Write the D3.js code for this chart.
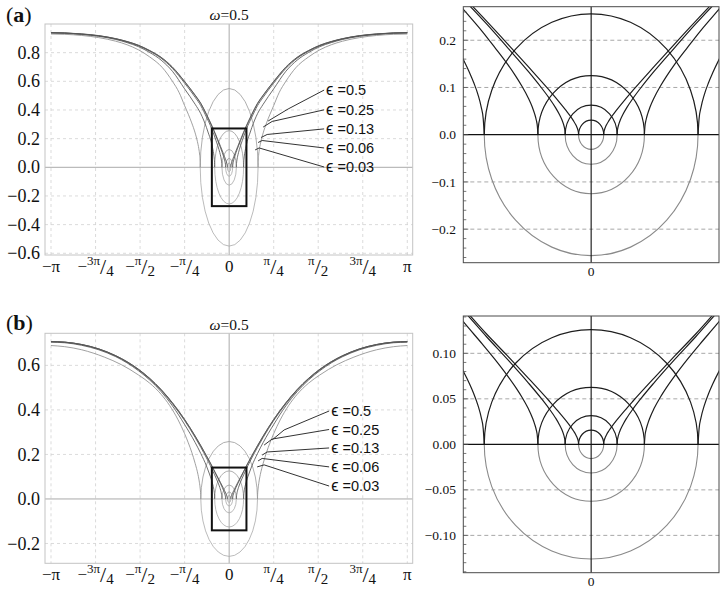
<!DOCTYPE html>
<html><head><meta charset="utf-8">
<script src="https://cdn.jsdelivr.net/npm/d3@7"></script>
<style>body{margin:0;background:#fff}svg{display:block}</style>
</head><body>
<svg id="c" width="727" height="593"></svg>
<script>
const PI = Math.PI;
// ---------- data ----------
const xTickValues = [-PI, -3*PI/4, -PI/2, -PI/4, 0, PI/4, PI/2, 3*PI/4, PI];
const xTickSign = ["−","−","−","−","","","","",""];
const xTickNum  = ["π","3π","π","π","0","π","π","3π","π"];
const xTickDen  = ["","4","2","4","","4","2","4",""];
const yTicksLeftA = [-0.6,-0.4,-0.2,0,0.2,0.4,0.6,0.8];
const yTicksLeftB = [-0.2,0,0.2,0.4,0.6];
const yTicksRightA = [-0.2,-0.1,0,0.1,0.2];
const yTicksRightB = [-0.10,-0.05,0,0.05,0.10];
const epsSymbol = "ϵ";
const epsValues = ["0.5","0.25","0.13","0.06","0.03"];
const titleText = "=0.5";

// circle / ellipse radii (x in k units, y in value units)
const circleRxA = [0.51, 0.255, 0.127, 0.062, 0.030];
const circleRyA = [0.55, 0.256, 0.125, 0.0625, 0.031];
const circleRxB = [0.50, 0.255, 0.127, 0.062, 0.030];
const circleRyB = [0.258, 0.126, 0.0625, 0.0315, 0.0157];

// branches, right half (k, value); left half is the mirror image
const branchA05 = [[0.51,0],[0.512,0.04],[0.52,0.085],[0.535,0.13],[0.56,0.18],[0.6,0.24],[0.66,0.31],[0.72,0.37],[0.785,0.43],[0.88,0.52],[1.0,0.60],[1.176,0.695],[1.4,0.77],[1.6,0.82],[1.8,0.855],[2.0,0.88],[2.3,0.905],[2.6,0.92],[2.9,0.928],[3.1416,0.93]];
const branchA25 = [[0.255,0],[0.2575,0.034],[0.262,0.0575],[0.27,0.085],[0.28,0.110],[0.29,0.131],[0.305,0.159],[0.33,0.198],[0.36,0.231],[0.4,0.278],[0.5,0.374],[0.6,0.44],[0.785,0.547],[1.0,0.67],[1.2,0.748],[1.4,0.801],[1.6,0.842],[1.8,0.870],[2.0,0.892],[2.3,0.914],[2.6,0.927],[2.9,0.935],[3.1416,0.937]];
const branchA13 = [[0.127,0],[0.1283,0.0174],[0.1308,0.0306],[0.135,0.0446],[0.14,0.0575],[0.15,0.0778],[0.165,0.1025],[0.18,0.124],[0.2,0.150],[0.23,0.185],[0.26,0.219],[0.3,0.2605],[0.33,0.291],[0.4,0.350],[0.5,0.430],[0.6,0.489],[0.785,0.587],[1.0,0.69],[1.2,0.761],[1.4,0.81],[1.6,0.848],[1.8,0.875],[2.0,0.896],[2.3,0.917],[2.6,0.929],[2.9,0.937],[3.1416,0.939]];
const branchA06 = [[0.062,0],[0.0626,0.0085],[0.0638,0.0149],[0.066,0.0224],[0.07,0.0321],[0.076,0.0434],[0.085,0.0574],[0.1,0.0773],[0.12,0.101],[0.15,0.134],[0.2,0.185],[0.25,0.235],[0.3,0.282],[0.35,0.324],[0.4,0.367],[0.5,0.444],[0.6,0.501],[0.785,0.597],[1.0,0.697],[1.2,0.766],[1.4,0.813],[1.6,0.851],[1.8,0.877],[2.0,0.897],[2.3,0.918],[2.6,0.930],[2.9,0.937],[3.1416,0.940]];
const branchA03 = [[0.030,0],[0.0303,0.0043],[0.0309,0.0074],[0.032,0.0111],[0.034,0.0159],[0.037,0.0215],[0.042,0.0292],[0.05,0.0397],[0.06,0.0515],[0.08,0.0734],[0.1,0.0942],[0.15,0.144],[0.2,0.193],[0.25,0.241],[0.3,0.2875],[0.35,0.330],[0.4,0.371],[0.5,0.447],[0.6,0.504],[0.785,0.599],[1.0,0.70],[1.2,0.768],[1.4,0.815],[1.6,0.852],[1.8,0.878],[2.0,0.898],[2.3,0.919],[2.6,0.931],[2.9,0.938],[3.1416,0.940]];

const branchB05 = [[0.5,0],[0.502,0.02],[0.51,0.045],[0.525,0.075],[0.55,0.11],[0.6,0.16],[0.66,0.21],[0.72,0.252],[0.785,0.293],[0.9,0.355],[1.05,0.42],[1.2,0.47],[1.4,0.52],[1.6,0.557],[1.9,0.603],[2.2,0.637],[2.6,0.670],[2.9,0.684],[3.1416,0.689]];
const branchB25 = [[0.255,0],[0.2575,0.0171],[0.262,0.029],[0.27,0.0428],[0.28,0.0556],[0.29,0.0663],[0.305,0.0802],[0.33,0.1001],[0.36,0.121],[0.4,0.148],[0.5,0.204],[0.6,0.2535],[0.785,0.334],[1.0,0.418],[1.2,0.482],[1.4,0.534],[1.6,0.576],[1.8,0.611],[2.0,0.639],[2.3,0.670],[2.6,0.690],[2.9,0.7015],[3.1416,0.704]];
const branchB13 = [[0.127,0],[0.1283,0.0088],[0.1308,0.0155],[0.135,0.0225],[0.14,0.029],[0.15,0.0393],[0.165,0.0518],[0.18,0.0626],[0.2,0.0756],[0.23,0.0936],[0.26,0.1104],[0.3,0.132],[0.33,0.149],[0.4,0.1843],[0.5,0.2317],[0.6,0.2762],[0.785,0.3517],[1.0,0.427],[1.2,0.488],[1.4,0.538],[1.6,0.580],[1.8,0.614],[2.0,0.642],[2.3,0.673],[2.6,0.693],[2.9,0.704],[3.1416,0.706]];
const branchB06 = [[0.062,0],[0.0626,0.0043],[0.0638,0.0075],[0.066,0.0113],[0.07,0.0162],[0.076,0.0219],[0.085,0.029],[0.1,0.039],[0.12,0.051],[0.15,0.0676],[0.2,0.0936],[0.25,0.1185],[0.3,0.1445],[0.35,0.1686],[0.4,0.1924],[0.5,0.2382],[0.6,0.2817],[0.785,0.3561],[1.0,0.431],[1.2,0.491],[1.4,0.541],[1.6,0.582],[1.8,0.616],[2.0,0.643],[2.3,0.674],[2.6,0.6935],[2.9,0.7043],[3.1416,0.707]];
const branchB03 = [[0.030,0],[0.0303,0.0021],[0.0309,0.0037],[0.032,0.0056],[0.034,0.008],[0.037,0.0109],[0.042,0.0147],[0.05,0.02],[0.06,0.026],[0.08,0.0371],[0.1,0.0476],[0.15,0.0728],[0.2,0.0974],[0.25,0.1215],[0.3,0.147],[0.35,0.1707],[0.4,0.1943],[0.5,0.2397],[0.6,0.283],[0.785,0.3571],[1.0,0.4323],[1.2,0.4917],[1.4,0.5416],[1.6,0.5829],[1.8,0.6167],[2.0,0.6438],[2.3,0.6742],[2.6,0.6939],[2.9,0.7045],[3.1416,0.7071]];

// leader lines (label end -> elbow -> anchor), data units
const leadersA = [
  [[1.675,0.539],[1.04,0.407],[0.688,0.323]],
  [[1.675,0.401],[0.758,0.32],[0.60,0.281]],
  [[1.675,0.268],[0.67,0.229],[0.564,0.208]],
  [[1.675,0.135],[0.582,0.187],[0.511,0.173]],
  [[1.675,0.002],[0.529,0.135],[0.458,0.121]]
];
const leadersB = [
  [[1.763,0.395],[0.97,0.31],[0.758,0.265]],
  [[1.763,0.312],[0.758,0.269],[0.617,0.242]],
  [[1.763,0.229],[0.67,0.211],[0.582,0.197]],
  [[1.763,0.144],[0.582,0.182],[0.511,0.171]],
  [[1.763,0.058],[0.617,0.153],[0.494,0.144]]
];
const zoomBoxA = [0.305, 0.271];
const zoomBoxB = [0.305, 0.141];

// ---------- drawing ----------
const svg = d3.select("#c");
const SERIF = "'Liberation Serif','Times New Roman',serif";
const SANS = "'Liberation Sans',Arial,sans-serif";
const fmtMinus = s => s.replace("-", "−");

const branchesA = [branchA05, branchA25, branchA13, branchA06, branchA03];
const branchesB = [branchB05, branchB25, branchB13, branchB06, branchB03];

function mirror(arr){ return arr.map(d => [-d[0], d[1]]).reverse(); }

function leftPanel(id, yDomain, yRange, yTicks, fmt, branches, rx, ry, leaders, box, labelK, titleY, tagY, tag){
  const x = d3.scaleLinear([-PI, PI], [51, 407.3]);
  const y = d3.scaleLinear(yDomain, yRange);
  const fx0 = 45, fx1 = 412.7, fy0 = yRange[1], fy1 = yRange[0];
  const g = svg.append("g");
  svg.append("clipPath").attr("id", id).append("rect")
    .attr("x", fx0).attr("y", fy0).attr("width", fx1 - fx0).attr("height", fy1 - fy0);
  g.selectAll(".vg").data(xTickValues.filter(v => v !== 0)).join("line")
    .attr("x1", d => x(d)).attr("x2", d => x(d)).attr("y1", fy0).attr("y2", fy1)
    .attr("stroke", "#d2d2d2").attr("stroke-width", 0.8).attr("stroke-dasharray", "3,3");
  g.selectAll(".hg").data(yTicks.filter(v => v !== 0)).join("line")
    .attr("x1", fx0).attr("x2", fx1).attr("y1", d => y(d)).attr("y2", d => y(d))
    .attr("stroke", "#d2d2d2").attr("stroke-width", 0.8).attr("stroke-dasharray", "3,3");
  g.append("line").attr("x1", fx0).attr("x2", fx1).attr("y1", y(0)).attr("y2", y(0)).attr("stroke", "#aaa").attr("stroke-width", 1);
  g.append("line").attr("x1", x(0)).attr("x2", x(0)).attr("y1", fy0).attr("y2", fy1).attr("stroke", "#aaa").attr("stroke-width", 1);
  g.append("rect").attr("x", fx0).attr("y", fy0).attr("width", fx1 - fx0).attr("height", fy1 - fy0)
    .attr("fill", "none").attr("stroke", "#c4c4c4").attr("stroke-width", 1);
  const pg = g.append("g").attr("clip-path", `url(#${id})`);
  rx.forEach((r, i) => {
    const a = x(r) - x(0), b = y(0) - y(ry[i]);
    pg.append("path").attr("d", `M${x(-r)},${y(0)} A${a},${b} 0 0 1 ${x(r)},${y(0)}`)
      .attr("fill", "none").attr("stroke", "#999").attr("stroke-width", 0.8);
    pg.append("path").attr("d", `M${x(r)},${y(0)} A${a},${b} 0 0 1 ${x(-r)},${y(0)}`)
      .attr("fill", "none").attr("stroke", "#aaa").attr("stroke-width", 0.8);
  });
  const ln = d3.line().x(d => x(d[0])).y(d => y(d[1])).curve(d3.curveMonotoneX);
  branches.forEach((b, i) => {
    [b, mirror(b)].forEach(part => {
      pg.append("path").attr("d", ln(part)).attr("fill", "none")
        .attr("stroke", i === 0 ? "#8f8f8f" : "#555").attr("stroke-width", 0.85);
    });
  });
  g.append("rect").attr("x", x(-box[0])).attr("y", y(box[1]))
    .attr("width", x(box[0]) - x(-box[0])).attr("height", y(-box[1]) - y(box[1]))
    .attr("fill", "none").attr("stroke", "#111").attr("stroke-width", 2);
  const ll = d3.line().x(d => x(d[0])).y(d => y(d[1]));
  leaders.forEach((L, i) => {
    g.append("path").attr("d", ll(L)).attr("fill", "none").attr("stroke", "#333").attr("stroke-width", 1);
    const t = g.append("text").attr("x", x(labelK)).attr("y", y(L[0][1])).attr("dy", "0.36em")
      .attr("font-family", SANS).attr("font-size", 14.5).attr("fill", "#111");
    t.append("tspan").attr("font-size", 16.5).text(epsSymbol);
    t.append("tspan").text(" =" + epsValues[i]);
  });
  g.selectAll(".yt").data(yTicks).join("text")
    .attr("x", 40).attr("y", d => y(d)).attr("dy", "0.34em").attr("text-anchor", "end")
    .attr("font-family", SERIF).attr("font-size", 18).attr("fill", "#111")
    .text(d => fmtMinus(fmt(d)));
  const base = fy1 + 16.5;
  xTickValues.forEach((v, i) => {
    const t = g.append("text").attr("x", x(v)).attr("y", base).attr("text-anchor", "middle")
      .attr("font-family", SERIF).attr("fill", "#111");
    if (!xTickDen[i]) { t.attr("font-size", 17).text(xTickSign[i] + xTickNum[i]); return; }
    if (xTickSign[i]) t.append("tspan").attr("font-size", 17).text(xTickSign[i]);
    t.append("tspan").attr("font-size", 13).attr("dy", -7).text(xTickNum[i]);
    t.append("tspan").attr("font-size", 22).attr("dy", 9).text("/");
    t.append("tspan").attr("font-size", 15).attr("dy", 2).text(xTickDen[i]);
  });
  const tt = g.append("text").attr("x", x(0)).attr("y", titleY).attr("text-anchor", "middle")
    .attr("font-family", SERIF).attr("font-size", 15.5).attr("fill", "#111");
  tt.append("tspan").attr("font-style", "italic").text("ω");
  tt.append("tspan").text(titleText);
  const tg = g.append("text").attr("x", 6).attr("y", tagY).attr("font-family", SERIF)
    .attr("font-size", 22).attr("fill", "#111");
  tg.append("tspan").text("(");
  tg.append("tspan").attr("font-weight", "bold").text(tag);
  tg.append("tspan").text(")");
}

function rightPanel(id, yDomain, yRange, yTicks, fmt, branches, rx, ry, minorStep, majorStep){
  const x = d3.scaleLinear([-0.305, 0.305], [463.3, 719]);
  const y = d3.scaleLinear(yDomain, yRange);
  const fx0 = 463.3, fx1 = 719, fy0 = yRange[1], fy1 = yRange[0];
  const g = svg.append("g");
  svg.append("clipPath").attr("id", id).append("rect")
    .attr("x", fx0).attr("y", fy0).attr("width", fx1 - fx0).attr("height", fy1 - fy0);
  g.selectAll(".hg").data(yTicks.filter(v => v !== 0)).join("line")
    .attr("x1", fx0).attr("x2", fx1).attr("y1", d => y(d)).attr("y2", d => y(d))
    .attr("stroke", "#9e9e9e").attr("stroke-width", 0.9).attr("stroke-dasharray", "4,3");
  const pg = g.append("g").attr("clip-path", `url(#${id})`);
  rx.forEach((r, i) => {
    const a = x(r) - x(0), b = y(0) - y(ry[i]);
    pg.append("path").attr("d", `M${x(r)},${y(0)} A${a},${b} 0 0 1 ${x(-r)},${y(0)}`)
      .attr("fill", "none").attr("stroke", "#8a8a8a").attr("stroke-width", 1.1);
    pg.append("path").attr("d", `M${x(-r)},${y(0)} A${a},${b} 0 0 1 ${x(r)},${y(0)}`)
      .attr("fill", "none").attr("stroke", "#1e1e1e").attr("stroke-width", 1.2);
  });
  const ln = d3.line().x(d => x(d[0])).y(d => y(d[1])).curve(d3.curveMonotoneX);
  branches.forEach(b => {
    [b, mirror(b)].forEach(part => {
      pg.append("path").attr("d", ln(part)).attr("fill", "none")
        .attr("stroke", "#1e1e1e").attr("stroke-width", 1.2);
    });
  });
  g.append("line").attr("x1", fx0).attr("x2", fx1).attr("y1", y(0)).attr("y2", y(0)).attr("stroke", "#111").attr("stroke-width", 1.2);
  g.append("line").attr("x1", x(0)).attr("x2", x(0)).attr("y1", fy0).attr("y2", fy1).attr("stroke", "#111").attr("stroke-width", 1.1);
  const n = Math.floor((yDomain[1] + 1e-9) / minorStep);
  const mt = d3.range(-n, n + 1).map(i => i * minorStep);
  g.selectAll(".mt").data(mt).join("line")
    .attr("x1", fx0).attr("x2", d => fx0 + (Math.abs(d / majorStep - Math.round(d / majorStep)) < 1e-6 ? 5 : 3))
    .attr("y1", d => y(d)).attr("y2", d => y(d)).attr("stroke", "#555").attr("stroke-width", 0.8);
  g.append("rect").attr("x", fx0).attr("y", fy0).attr("width", fx1 - fx0).attr("height", fy1 - fy0)
    .attr("fill", "none").attr("stroke", "#4a4a4a").attr("stroke-width", 1);
  g.selectAll(".yt").data(yTicks).join("text")
    .attr("x", 456).attr("y", d => y(d)).attr("dy", "0.34em").attr("text-anchor", "end")
    .attr("font-family", SERIF).attr("font-size", 13.5).attr("fill", "#111")
    .text(d => fmtMinus(fmt(d)));
  g.append("text").attr("x", x(0)).attr("y", fy1 + 13).attr("text-anchor", "middle")
    .attr("font-family", SERIF).attr("font-size", 13.5).attr("fill", "#111").text("0");
}

leftPanel("clA", [-0.612, 1.0], [255, 24], yTicksLeftA, d3.format(".1f"), branchesA,
  circleRxA, circleRyA, leadersA, zoomBoxA, 1.71, 20, 22, "a");
leftPanel("clB", [-0.289, 0.744], [563.3, 333.3], yTicksLeftB, d3.format(".1f"), branchesB,
  circleRxB, circleRyB, leadersB, zoomBoxB, 1.80, 330, 330, "b");
rightPanel("crA", [-0.271, 0.271], [262.7, 6.7], yTicksRightA, d3.format(".1f"),
  branchesA.slice(1), circleRxA.slice(1), circleRyA.slice(1), 0.02, 0.1);
rightPanel("crB", [-0.141, 0.141], [572.7, 316], yTicksRightB, d3.format(".2f"),
  branchesB.slice(1), circleRxB.slice(1), circleRyB.slice(1), 0.01, 0.05);
</script>
</body></html>
